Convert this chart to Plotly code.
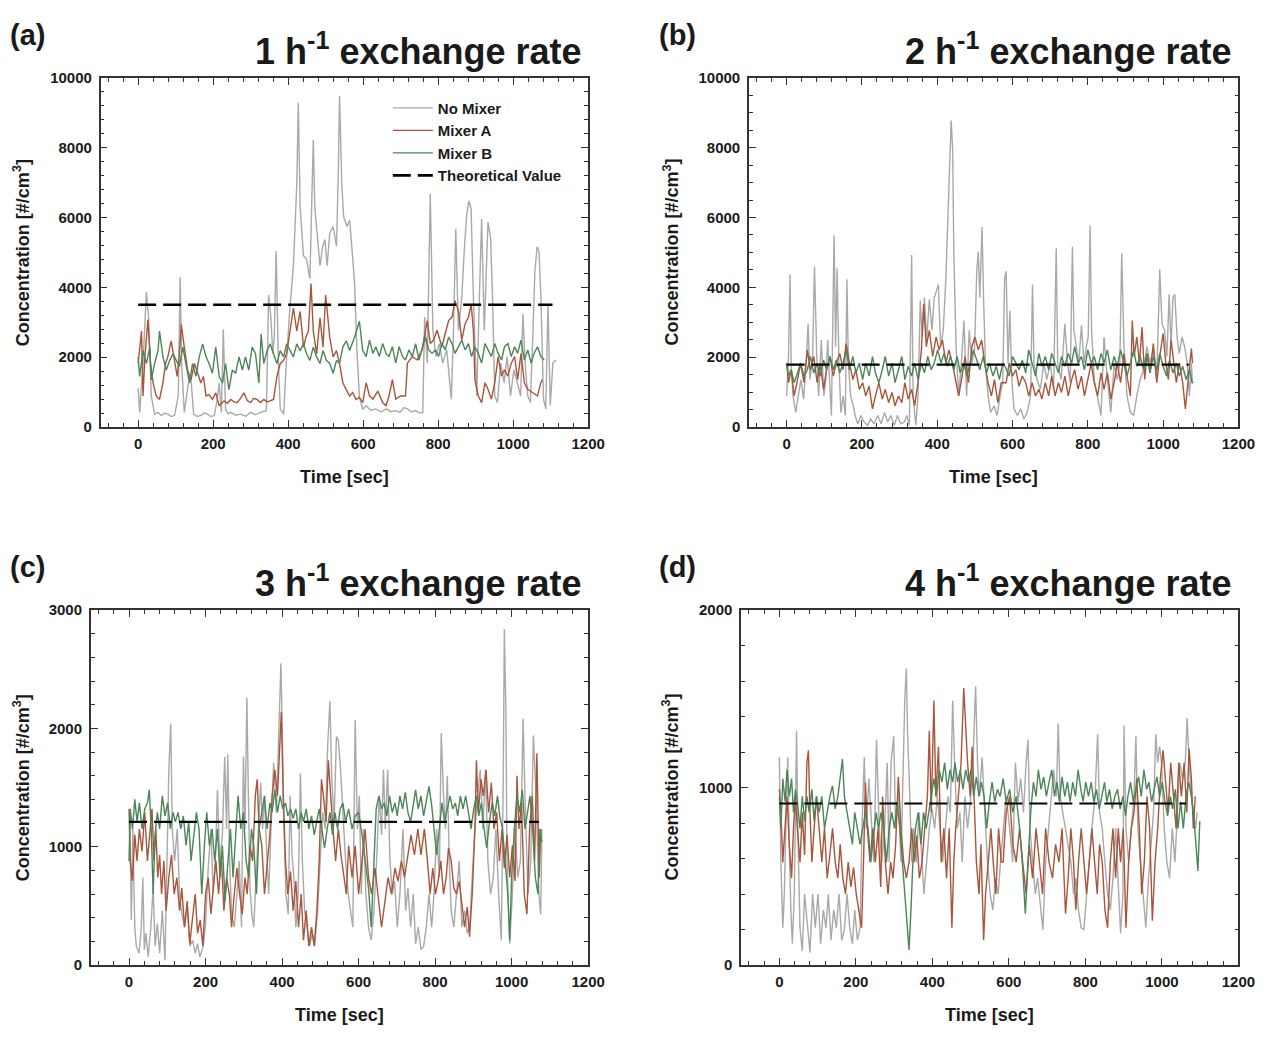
import plotly.graph_objects as go

W, H = 1288, 1038

# ---------------- data (time [s], concentration [#/cm3]) ----------------
a_no_mixer = [(0,1120),(4,420),(13,1820),(22,3870),(28,3130),(35,890),(44,370),(53,420),(62,330),(70,400),(79,370),(88,300),(97,330),
    (107,890),(112,4300),(116,1820),(123,420),(134,1260),(141,1350),(148,370),(157,300),(167,330),(176,400),(185,370),(194,300),(203,330),
    (211,790),(216,1260),(222,420),(227,2800),(233,510),(240,380),(247,420),(260,340),(273,370),(287,310),(300,420),(313,350),(326,420),
    (342,470),(348,3780),(354,3130),(359,2100),(363,2570),(368,5040),(374,1820),(379,510),(388,370),(395,1820),(404,3310),(414,4620),
    (423,6960),(427,9290),(432,6300),(441,4900),(449,4810),(458,4250),(463,6490),(467,8220),(471,6300),(478,5560),(485,4620),(492,5180),
    (498,5370),(504,4620),(511,5560),(520,5740),(529,5180),(534,7420),(537,9480),(543,6960),(548,6020),(557,5740),(564,5930),(571,5000),
    (577,4150),(583,2290),(590,850),(599,510),(608,610),(620,480),(634,520),(648,430),(661,520),(674,440),(687,470),(698,420),(709,560),
    (718,520),(729,430),(740,470),(750,400),(759,420),(764,3150),(771,1830),(779,6670),(786,2770),(794,2020),(803,2390),(812,1830),
    (823,2210),(835,800),(841,2770),(847,5680),(854,2770),(863,3710),(870,5120),(876,6060),(882,6480),(888,6240),(894,3710),(903,890),
    (910,3710),(916,5960),(923,2770),(929,4650),(933,5870),(940,5400),(945,3710),(951,890),(958,700),(967,1830),(976,1270),(984,2020),
    (993,890),(1002,1640),(1011,1270),(1020,890),(1026,3240),(1032,1830),(1039,890),(1046,700),(1053,2770),(1058,4460),(1064,5160),
    (1069,5020),(1074,3710),(1081,800),(1087,520),(1093,3520),(1099,610),(1106,1830),(1114,1920)]

a_mixer_a = [(0,1820),(9,2750),(13,890),(18,2010),(26,3080),(33,1820),(40,1260),(48,890),(57,790),(66,1260),(73,1820),(79,2010),
    (88,2470),(97,1910),(104,1450),(110,2100),(115,2940),(123,2290),(132,1630),(141,1350),(150,1820),(159,1540),(167,1260),(174,1450),
    (181,890),(189,930),(198,790),(207,980),(216,610),(229,750),(238,680),(247,790),(256,720),(264,700),(273,820),(282,980),(291,760),
    (300,700),(308,820),(317,790),(326,700),(335,790),(344,720),(352,750),(361,790),(370,1450),(379,1820),(388,1910),(396,2100),
    (405,2750),(414,3410),(423,2750),(432,3310),(441,2290),(448,2600),(454,2750),(461,4110),(467,2750),(476,2100),(485,3130),(493,2290),
    (500,3780),(511,2570),(520,2010),(529,2190),(537,1820),(546,1260),(555,1070),(564,890),(572,990),(581,790),(590,850),(599,700),
    (608,1270),(617,890),(626,800),(639,1030),(652,700),(661,610),(669,890),(678,1360),(687,800),(700,890),(713,890),(718,1830),
    (731,2020),(744,1920),(757,2210),(771,3050),(779,2390),(788,2490),(797,2770),(810,2300),(819,2680),(828,3050),(837,3150),
    (845,3620),(854,3330),(863,2490),(872,2960),(881,3150),(888,3520),(894,2770),(898,1360),(907,890),(916,700),(925,1270),(933,1080),
    (942,800),(951,1270),(960,2020),(969,1460),(977,1640),(986,1460),(995,1830),(1004,2020),(1012,1360),(1021,2110),(1030,1270),
    (1039,1080),(1052,990),(1065,890),(1074,1270),(1078,1360)]

a_mixer_b = [(0,2010),(4,1450),(13,2190),(22,1820),(31,2290),(35,1350),(44,1820),(53,2190),(57,2750),(66,2010),(75,1630),(84,1910),
    (93,2100),(101,1910),(110,1730),(119,2290),(128,1820),(137,1260),(145,1820),(154,1450),(163,2010),(172,2380),(181,2010),(189,1820),
    (198,1540),(207,2290),(216,1450),(225,1260),(233,1820),(242,1070),(251,1630),(260,1540),(269,2010),(278,1630),(286,2010),(295,1630),
    (304,2290),(313,2100),(322,1260),(328,2660),(335,1820),(344,2190),(352,2380),(361,2100),(370,1820),(379,2190),(388,2010),(396,2380),
    (405,2190),(414,2010),(423,2380),(432,2190),(441,2380),(449,2100),(458,1910),(467,2290),(476,2010),(485,1820),(493,2190),(502,1910),
    (511,1820),(520,1540),(529,1910),(537,1820),(546,2290),(555,2470),(564,2190),(577,2570),(590,3030),(599,2190),(608,2020),(617,2490),
    (626,2110),(634,2300),(643,2020),(652,2390),(661,2110),(669,2020),(678,2300),(687,1830),(696,2300),(705,2020),(713,1920),(722,2210),
    (731,2020),(740,2390),(749,1920),(757,2210),(766,2580),(775,2210),(784,2110),(793,2210),(801,2020),(810,2390),(819,2210),(828,2580),
    (837,2390),(845,2110),(854,2300),(863,2490),(872,2210),(881,2390),(889,2020),(898,2300),(907,2110),(916,1830),(925,2390),(933,2210),
    (942,2020),(951,2390),(960,2110),(969,1920),(977,2300),(986,2390),(995,2020),(1004,2300),(1012,2110),(1021,2490),(1030,1920),
    (1039,2210),(1048,1830),(1056,2110),(1065,2300),(1074,2020),(1083,1920)]

b_no_mixer = [(0,890),(5,2020),(9,4370),(12,1830),(17,890),(24,420),(31,890),(38,1360),(45,800),(52,1830),(57,2960),(62,1360),
    (69,2020),(74,4600),(80,2020),(85,890),(92,2490),(99,890),(104,1360),(109,2490),(114,1360),(119,330),(126,5490),(130,2300),
    (134,4550),(139,1830),(144,420),(150,890),(156,330),(160,4230),(164,1830),(170,890),(177,610),(182,330),(189,90),(197,330),(206,140),
    (215,50),(223,230),(232,90),(242,330),(251,90),(260,420),(268,140),(277,330),(286,50),(294,330),(303,90),(312,140),(319,330),(326,50),
    (332,4930),(336,890),(343,50),(349,890),(355,3620),(360,2580),(366,3710),(372,2490),(379,3660),(386,2770),(392,3710),(398,3900),
    (403,4080),(409,2300),(416,2770),(423,4270),(429,6340),(434,7930),(437,8780),(441,7930),(444,5020),(450,2300),(457,890),(464,1830),
    (471,3050),(478,890),(485,2770),(492,1830),(499,2210),(505,4460),(509,5020),(513,3710),(519,5730),(523,3710),(528,1830),(535,890),
    (542,420),(551,610),(559,330),(567,890),(574,1270),(579,4270),(583,4460),(588,1830),(593,3330),(598,1360),(604,520),(613,330),
    (622,520),(630,230),(639,420),(648,890),(653,4080),(657,1830),(665,1360),(674,1080),(683,1830),(691,1360),(700,1830),(709,1080),
    (716,5120),(720,1830),(729,1360),(739,2960),(746,1830),(753,1270),(759,5160),(763,2770),(770,2210),(776,1830),(783,2910),(790,1830),
    (796,2300),(801,2580),(806,5770),(810,2770),(817,1360),(826,890),(835,330),(843,2580),(852,1360),(861,420),(870,1830),(878,1360),
    (885,1830),(890,4980),(896,2300),(904,890),(913,420),(922,330),(930,890),(939,1360),(948,1640),(957,2300),(965,1830),(974,2210),
    (983,1360),(991,4510),(997,2960),(1004,2770),(1010,2020),(1016,3800),(1021,2300),(1026,3710),(1031,3800),(1037,2580),(1043,2110),
    (1050,2580),(1057,2300),(1064,1830),(1070,890),(1075,1830),(1078,1270)]

b_mixer_a = [(0,1830),(5,1270),(12,1640),(20,890),(29,1360),(37,1830),(46,1270),(55,2210),(63,1640),(72,2020),(81,1270),(89,1830),
    (98,1080),(106,1640),(115,2020),(124,1460),(132,1830),(141,2110),(150,1640),(158,2390),(167,1830),(176,1360),(184,1640),(193,1080),
    (202,1270),(210,890),(219,1170),(228,520),(236,890),(245,1270),(254,800),(262,1080),(271,700),(280,990),(288,610),(297,890),(306,700),
    (314,1270),(323,800),(332,1080),(340,610),(349,1270),(358,2210),(364,3520),(371,2300),(379,2770),(388,2020),(397,2580),(405,2210),
    (414,2490),(423,1830),(431,2210),(440,1830),(448,1360),(457,890),(466,1460),(474,2020),(483,1270),(492,2300),(500,2580),(509,2210),
    (518,2490),(526,1830),(535,1270),(544,890),(552,1360),(561,700),(570,1270),(583,1270),(591,1830),(600,1460),(609,1640),(617,1170),
    (626,1460),(635,1270),(643,890),(652,1270),(661,890),(670,1080),(678,800),(687,1270),(696,890),(704,1460),(713,890),(722,1270),
    (730,990),(739,1460),(748,890),(757,1360),(765,1640),(774,1080),(783,1460),(791,890),(800,1360),(809,1830),(817,1270),(826,890),
    (835,1550),(843,1080),(852,1550),(861,800),(870,1270),(878,1830),(887,1270),(896,2110),(904,1460),(913,890),(918,3050),(923,2020),
    (930,2580),(937,1830),(944,2860),(951,1360),(958,2110),(965,1550),(974,2390),(983,1270),(991,2020),(1000,2680),(1007,1830),
    (1014,1360),(1021,2490),(1028,1830),(1035,1270),(1043,1830),(1052,1270),(1059,520),(1064,1080),(1070,1830),(1075,2250),(1078,1830)]

b_mixer_b = [(0,1830),(5,1460),(12,1640),(20,1270),(29,1550),(37,1830),(46,1460),(55,1640),(63,2020),(72,1550),(81,1830),(89,1460),
    (98,1920),(106,1640),(115,2020),(124,1640),(132,1920),(141,1550),(150,1830),(158,2210),(167,1640),(176,2020),(184,1550),(193,1830),
    (202,1360),(210,1830),(219,1460),(228,2020),(236,1550),(245,1270),(254,1640),(262,2020),(271,1460),(280,1830),(288,1270),(297,1640),
    (306,2020),(314,1360),(323,1740),(332,1460),(340,1830),(349,1360),(358,1830),(366,1550),(375,2020),(384,1640),(392,1830),(401,2210),
    (410,1830),(418,2110),(427,1740),(435,2020),(444,1640),(453,2020),(461,1550),(470,1830),(479,1460),(487,1830),(496,2210),(505,1920),
    (513,1640),(522,2020),(531,1550),(539,1830),(548,1460),(557,1740),(565,1360),(574,1830),(580,1740),(591,1460),(600,2020),(609,1830),
    (617,1640),(626,1920),(635,1550),(643,2210),(652,1830),(661,1460),(670,2110),(678,1740),(687,2020),(696,1640),(704,2110),(713,1830),
    (722,1550),(730,2020),(739,1740),(748,2110),(757,1830),(765,2300),(774,1830),(783,2020),(791,1640),(800,2210),(809,1830),(817,2020),
    (826,1640),(835,2110),(843,1830),(852,2210),(861,1640),(870,2020),(878,1740),(887,2210),(896,1830),(904,1460),(913,1830),(922,2210),
    (930,1740),(939,2020),(948,1640),(957,2110),(965,1550),(974,2020),(983,1640),(991,2110),(1000,1740),(1009,1460),(1017,1920),
    (1026,1550),(1035,1830),(1043,1460),(1052,1740),(1061,1360),(1070,1640),(1077,1270),(1080,1270)]

c_no_mixer = [(2,1290),(6,380),(10,1150),(15,320),(19,160),(26,100),(32,320),(36,740),(40,130),(44,270),(50,70),(57,320),(63,650),
    (68,160),(74,350),(80,100),(87,460),(94,40),(100,1010),(104,1650),(109,2040),(113,1150),(119,880),(126,1150),(132,600),(138,430),
    (145,320),(152,490),(159,160),(166,210),(173,100),(179,180),(185,70),(194,160),(200,350),(207,820),(214,1150),(220,600),(226,930),
    (231,1480),(237,880),(244,1100),(250,1760),(255,1150),(258,1780),(263,880),(268,430),(275,320),(282,600),(288,880),(294,320),
    (299,1760),(303,1150),(308,2260),(312,1430),(316,650),(321,430),(326,320),(332,740),(338,1150),(344,1540),(349,1150),(354,1430),
    (359,1010),(365,600),(371,1150),(378,1710),(385,1290),(391,1980),(397,2550),(401,1900),(405,1150),(410,600),(416,430),(421,1430),
    (426,930),(431,740),(436,320),(442,600),(448,1620),(453,880),(459,460),(465,320),(472,160),(479,270),(485,160),(493,460),(499,880),
    (506,1290),(513,1150),(519,1840),(525,2230),(530,1570),(536,1210),(542,1930),(547,1900),(553,1650),(559,1290),(566,880),(573,600),
    (579,460),(585,320),(591,2070),(597,1150),(602,1430),(607,600),(613,1150),(619,600),(626,320),(633,210),(640,460),(647,880),
    (654,1430),(660,1100),(665,1650),(670,1150),(676,1650),(682,880),(688,600),(694,710),(701,320),(708,600),(716,1150),(723,460),
    (729,650),(736,320),(743,600),(749,180),(756,320),(763,130),(770,160),(777,320),(784,600),(791,320),(798,650),(804,1150),(811,740),
    (816,1960),(822,1430),(827,1150),(832,1600),(837,880),(842,460),(849,320),(856,600),(863,880),(870,320),(877,460),(884,270),(890,320),
    (897,740),(904,1150),(911,1430),(918,1650),(925,1150),(932,1650),(938,880),(945,600),(952,740),(959,1150),(966,600),(973,210),
    (978,1540),(981,2840),(985,2150),(988,880),(995,180),(1002,600),(1009,1150),(1016,740),(1023,880),(1030,2080),(1036,1290),
    (1043,600),(1050,880),(1057,1940),(1064,1430),(1071,600),(1076,430),(1079,1150)]

c_mixer_a = [(0,1320),(3,880),(9,710),(15,1100),(21,880),(27,1150),(34,960),(41,1290),(48,880),(55,1150),(60,1320),(65,880),(70,1150),
    (75,740),(80,930),(85,600),(91,880),(97,460),(104,740),(111,930),(118,600),(125,740),(132,460),(138,650),(145,320),(152,540),
    (159,180),(166,400),(173,600),(179,270),(186,380),(193,160),(200,600),(207,740),(214,430),(221,680),(227,880),(234,600),(241,930),
    (248,460),(255,740),(262,600),(268,320),(275,600),(282,820),(289,600),(296,430),(303,740),(309,600),(316,1010),(323,880),(330,1430),
    (335,1570),(340,1150),(347,1010),(354,600),(361,880),(368,1100),(374,1430),(381,1650),(388,1430),(393,1840),(398,2140),(403,1430),
    (409,880),(415,600),(422,790),(429,460),(436,710),(443,320),(450,600),(456,210),(463,460),(470,160),(477,320),(484,160),(491,460),
    (497,880),(503,1570),(508,1430),(515,1210),(521,1730),(527,1430),(533,1150),(540,880),(547,1150),(554,930),(561,740),(568,600),
    (574,1010),(583,740),(591,1010),(600,600),(609,880),(617,1150),(626,740),(634,600),(643,820),(652,540),(660,320),(669,540),(677,740),
    (686,600),(695,820),(703,710),(712,880),(720,740),(729,930),(737,1100),(746,930),(755,1150),(763,930),(772,1150),(780,880),(787,600),
    (794,820),(801,600),(808,710),(815,880),(822,600),(829,740),(835,990),(842,880),(849,650),(856,600),(863,710),(870,490),(877,320),
    (884,490),(890,240),(897,600),(904,1150),(908,1730),(913,1290),(920,1570),(926,1430),(933,1650),(940,1290),(947,1540),(954,1150),
    (961,1290),(968,880),(975,1150),(981,820),(988,1100),(995,740),(1002,1010),(1009,710),(1014,1600),(1019,1150),(1026,1370),(1033,600),
    (1040,430),(1047,1150),(1054,1430),(1060,880),(1066,1790),(1069,1150),(1072,740),(1076,1150)]

c_mixer_b = [(0,880),(3,1320),(9,1150),(15,1400),(21,1210),(27,1370),(34,1150),(41,1320),(48,1370),(53,1480),(58,1150),(63,600),
    (68,1100),(74,1290),(80,1150),(87,1430),(94,1260),(101,1370),(108,1150),(115,1290),(121,1210),(128,1290),(135,1150),(142,1260),
    (149,1010),(156,1210),(162,880),(169,1100),(176,1290),(183,1150),(190,600),(197,1010),(203,1290),(210,1010),(217,1150),(224,880),
    (231,1150),(238,740),(244,1010),(251,540),(258,880),(265,1150),(272,740),(279,1150),(285,1430),(292,1150),(299,1290),(306,880),
    (313,740),(320,1150),(326,1010),(333,600),(340,1150),(347,1290),(354,1430),(361,1150),(368,1370),(374,1290),(381,1480),(388,1290),
    (395,1430),(402,1320),(409,1370),(415,1260),(422,1320),(429,1240),(436,1320),(443,1150),(450,1290),(456,1210),(463,1320),(470,1150),
    (477,1260),(484,1100),(491,1210),(497,1320),(504,1150),(511,990),(518,1150),(525,1290),(532,1100),(538,1290),(545,1150),(552,1320),
    (559,1370),(566,1210),(574,1320),(583,1150),(591,1260),(600,1290),(609,1100),(617,880),(626,650),(633,320),(640,880),(646,1320),
    (653,1430),(660,1320),(667,1370),(674,1260),(681,1430),(688,1290),(695,1370),(701,1260),(708,1430),(715,1320),(722,1460),(729,1290),
    (736,1210),(743,1370),(749,1480),(756,1320),(763,1430),(770,1260),(777,1370),(784,1510),(791,1350),(798,1150),(804,930),(811,1150),
    (818,1370),(825,1210),(832,1320),(839,1430),(846,1320),(853,1370),(859,1260),(866,1430),(873,1320),(880,1430),(887,1290),(894,1150),
    (901,1320),(908,1430),(914,1260),(921,1370),(928,1150),(935,990),(942,1210),(949,1370),(956,1260),(963,1430),(969,1260),(976,1150),
    (983,880),(990,600),(995,210),(1000,740),(1007,1150),(1014,1430),(1021,1290),(1028,1480),(1035,1150),(1042,1320),(1048,1430),
    (1055,1150),(1062,740),(1069,600),(1074,1150),(1079,1040)]

d_no_mixer = [(0,1170),(4,580),(9,210),(13,400),(17,770),(22,1170),(26,680),(30,310),(34,120),(39,400),(45,1320),(49,680),(54,210),
    (60,80),(66,400),(73,210),(80,70),(87,400),(94,210),(101,400),(108,120),(115,310),(122,210),(128,400),(135,140),(142,310),(149,210),
    (156,400),(163,140),(170,200),(177,400),(184,210),(191,120),(197,310),(204,140),(211,210),(216,770),(222,1170),(227,770),(234,1050),
    (241,770),(247,580),(254,1270),(261,770),(268,580),(275,770),(282,1140),(287,580),(292,1140),(299,1290),(304,770),(311,950),(318,580),
    (323,1050),(328,1510),(332,1670),(335,1320),(341,950),(346,580),(351,770),(358,580),(365,860),(372,580),(378,400),(385,580),(392,770),
    (399,880),(406,770),(413,950),(420,770),(427,580),(434,770),(441,950),(447,860),(453,1490),(458,1140),(465,770),(472,860),(478,580),
    (485,950),(492,770),(499,920),(506,1140),(513,1570),(518,1140),(523,950),(530,1170),(537,860),(544,580),(551,400),(558,310),(565,490),
    (572,400),(578,580),(585,770),(593,950),(602,770),(610,580),(617,1140),(624,920),(631,1050),(638,860),(645,1140),(650,1270),(655,770),
    (662,580),(669,400),(675,490),(683,310),(689,200),(696,580),(703,770),(710,950),(717,1100),(724,950),(729,1360),(734,950),(741,860),
    (748,770),(755,680),(762,580),(769,400),(775,490),(782,310),(789,210),(796,200),(803,400),(810,580),(817,770),(825,950),(832,1300),
    (837,860),(844,770),(851,580),(858,400),(865,310),(872,490),(879,770),(886,400),(892,180),(898,400),(901,1350),(906,770),(913,580),
    (920,770),(927,950),(932,1290),(937,770),(944,580),(951,400),(958,210),(965,490),(972,680),(978,860),(984,1300),(989,1140),(994,1230),
    (999,1140),(1006,770),(1013,580),(1020,490),(1027,770),(1034,580),(1040,860),(1047,1140),(1054,1050),(1061,1140),(1066,1390),
    (1071,1140),(1077,950),(1083,860),(1088,770),(1092,860)]

d_mixer_a = [(0,990),(4,860),(9,580),(15,770),(20,950),(26,680),(32,490),(37,770),(42,950),(47,770),(54,580),(60,860),(66,620),
    (72,1140),(76,1210),(80,860),(85,580),(91,770),(97,950),(104,770),(111,580),(118,770),(125,490),(132,620),(139,770),(146,580),
    (153,490),(159,680),(166,490),(173,400),(180,580),(187,440),(194,550),(201,400),(208,310),(215,210),(220,580),(225,1030),(230,770),
    (237,580),(244,770),(251,580),(258,770),(265,440),(270,950),(277,580),(284,400),(291,580),(297,490),(304,680),(311,1060),(318,770),
    (325,580),(332,490),(339,580),(346,770),(353,580),(359,730),(366,490),(373,580),(380,770),(387,950),(392,1320),(397,860),(404,1490),
    (409,950),(416,1230),(423,580),(430,770),(437,490),(444,770),(451,210),(456,580),(461,770),(468,950),(475,1140),(482,1560),(487,1320),
    (492,1140),(499,950),(504,1230),(509,950),(515,580),(522,400),(527,680),(534,140),(539,400),(546,580),(553,770),(559,580),(566,400),
    (573,770),(580,580),(585,580),(593,860),(602,950),(610,680),(619,580),(628,770),(636,580),(645,400),(653,680),(662,490),(671,770),
    (679,580),(688,400),(696,770),(705,580),(714,490),(722,680),(731,580),(739,770),(748,290),(755,490),(762,770),(769,580),(775,310),
    (782,580),(789,770),(796,580),(803,400),(810,580),(817,770),(824,580),(831,400),(837,680),(844,580),(851,310),(858,210),(865,580),
    (872,770),(879,490),(886,770),(892,580),(899,770),(906,210),(913,580),(920,770),(927,860),(934,1050),(941,770),(947,400),(954,580),
    (961,950),(968,770),(975,250),(982,580),(989,770),(996,1050),(1003,1210),(1009,1050),(1016,860),(1023,1140),(1030,950),(1037,770),
    (1044,1140),(1051,950),(1058,1140),(1065,860),(1071,1220),(1077,1050),(1082,770),(1087,950)]

d_mixer_b = [(0,950),(4,770),(9,1050),(15,920),(20,1100),(26,950),(32,1050),(37,860),(42,990),(47,920),(54,770),(60,950),(66,810),
    (72,950),(78,860),(85,990),(91,810),(97,950),(104,860),(111,950),(118,770),(125,860),(132,950),(139,1010),(146,880),(153,950),
    (159,1060),(165,1160),(170,950),(177,860),(184,770),(191,680),(197,860),(204,770),(211,680),(218,770),(225,860),(232,770),(239,580),
    (246,730),(253,860),(259,770),(266,860),(273,770),(280,580),(287,770),(294,860),(301,770),(308,920),(315,770),(322,580),(328,400),
    (334,210),(339,85),(344,310),(349,580),(356,770),(363,860),(370,680),(377,860),(384,770),(391,860),(397,950),(404,1050),(411,950),
    (418,1100),(425,1030),(432,1140),(439,990),(446,1100),(453,1030),(459,1140),(466,1030),(473,1100),(480,990),(487,1100),(494,1030),
    (501,1100),(508,950),(515,1060),(522,950),(528,1030),(535,950),(542,770),(549,920),(556,1030),(563,920),(570,990),(577,950),(585,1050),
    (593,920),(602,990),(610,860),(619,950),(628,770),(636,550),(643,290),(650,580),(657,860),(664,1030),(671,950),(677,1100),(684,990),
    (691,1060),(698,950),(705,1030),(712,1100),(719,950),(726,1030),(732,920),(739,1060),(746,950),(753,1030),(760,920),(767,1030),
    (774,950),(781,1100),(788,990),(794,920),(801,1030),(808,950),(815,1030),(822,920),(829,990),(836,880),(843,950),(850,1030),(856,920),
    (863,990),(870,880),(877,950),(884,990),(891,880),(898,950),(905,840),(911,950),(918,1030),(925,920),(932,990),(939,1060),(946,950),
    (953,1100),(960,990),(966,1030),(973,920),(980,990),(987,1060),(994,950),(1001,1030),(1008,920),(1015,840),(1022,950),(1028,880),
    (1035,990),(1042,770),(1049,920),(1056,770),(1063,950),(1070,1030),(1077,950),(1083,840),(1089,680),(1094,530),(1099,810)]

theoretical_value = [3500, 1790, 1210, 910]
theoretical_end = [1105, 1068, 1071, 1063]
panel_letters = ["(a)", "(b)", "(c)", "(d)"]
exchange_rates = ["1", "2", "3", "4"]
y_ranges = [[0, 10000], [0, 10000], [0, 3000], [0, 2000]]
y_dticks = [2000, 2000, 1000, 1000]
y_minor = [400, 500, 200, 200]
series_names = ["No Mixer", "Mixer A", "Mixer B"]

panel_data = [
    [a_no_mixer, a_mixer_a, a_mixer_b],
    [b_no_mixer, b_mixer_a, b_mixer_b],
    [c_no_mixer, c_mixer_a, c_mixer_b],
    [d_no_mixer, d_mixer_a, d_mixer_b],
]

# ---------------- style / layout ----------------
colors = ["#a9a9a9", "#a9553b", "#4b8558"]
FONT = "Liberation Sans, Arial, sans-serif"
INK = "#1a1a1a"
# plot-area boxes in pixels: left, right, top, bottom
boxes = [(102, 596, 70, 425), (759, 1255, 70, 425), (92, 596, 611, 972), (751, 1255, 611, 972)]

fig = go.Figure()
for i in range(4):
    xa = "x" if i == 0 else f"x{i+1}"
    ya = "y" if i == 0 else f"y{i+1}"
    for j, series in enumerate(panel_data[i]):
        t, v = zip(*series)
        fig.add_trace(go.Scatter(
            x=list(t), y=list(v), mode="lines", name=series_names[j],
            line=dict(color=colors[j], width=1.4), xaxis=xa, yaxis=ya,
            showlegend=(i == 0), legendgroup=series_names[j]))
    fig.add_trace(go.Scatter(
        x=[0, theoretical_end[i]], y=[theoretical_value[i]] * 2, mode="lines",
        name="Theoretical Value", line=dict(color="black", width=2.6 if i == 0 else 2.2, dash="18px,7px"),
        xaxis=xa, yaxis=ya, showlegend=(i == 0), legendgroup="theory"))

layout = dict(
    width=W, height=H, margin=dict(l=0, r=0, t=0, b=0),
    paper_bgcolor="white", plot_bgcolor="white",
    font=dict(family=FONT, color=INK),
    legend=dict(x=393 / W, y=1 - 84 / H, xanchor="left", yanchor="top",
                bgcolor="rgba(0,0,0,0)", font=dict(size=15, family=FONT, color=INK, weight="bold"),
                tracegroupgap=0, itemwidth=40),
    annotations=[],
)

axis_common = dict(
    showline=True, linecolor="#333333", linewidth=1.5, mirror="allticks",
    ticks="inside", ticklen=7, tickwidth=1.3, tickcolor="#333333",
    showgrid=False, zeroline=False, tickformat="d",
    tickfont=dict(size=15, family=FONT, color=INK, weight="bold"),
)

for i, (l, r, t, b) in enumerate(boxes):
    sx = "" if i == 0 else str(i + 1)
    layout["xaxis" + sx] = dict(
        axis_common, domain=[l / W, r / W], anchor="y" + sx, range=[-100, 1200],
        tick0=0, dtick=200, ticklabelstandoff=2,
        minor=dict(ticks="inside", ticklen=4, tickwidth=1.1, tickcolor="#333333", dtick=40, tick0=0))
    layout["yaxis" + sx] = dict(
        axis_common, domain=[1 - b / H, 1 - t / H], anchor="x" + sx, range=y_ranges[i],
        tick0=0, dtick=y_dticks[i], ticklabelstandoff=4,
        minor=dict(ticks="inside", ticklen=4, tickwidth=1.1, tickcolor="#333333", dtick=y_minor[i], tick0=0))

    cx = (l + r) / 2
    cy = (t + b) / 2
    layout["annotations"].append(dict(
        text=f"<b>{panel_letters[i]}</b>", x=(8 if i % 2 == 0 else 666) / W, y=1 - (t - 44) / H,
        xref="paper", yref="paper", xanchor="left", yanchor="middle", showarrow=False,
        font=dict(size=29, family=FONT, color=INK)))
    layout["annotations"].append(dict(
        text=f"<b>{exchange_rates[i]} h<sup>-1</sup> exchange rate</b>", x=(r - 4) / W, y=1 - (t - 29) / H,
        xref="paper", yref="paper", xanchor="right", yanchor="middle", showarrow=False,
        font=dict(size=36, family=FONT, color=INK)))
    layout["annotations"].append(dict(
        text="<b>Time [sec]</b>", x=cx / W, y=1 - (b + 51) / H,
        xref="paper", yref="paper", xanchor="center", yanchor="middle", showarrow=False,
        font=dict(size=18, family=FONT, color=INK)))
    layout["annotations"].append(dict(
        text="<b>Concentration [#/cm<sup>3</sup>]</b>", x=(22 if i % 2 == 0 else 680) / W, y=1 - cy / H,
        xref="paper", yref="paper", xanchor="center", yanchor="middle", showarrow=False, textangle=-90,
        font=dict(size=18, family=FONT, color=INK)))

fig.update_layout(layout)
fig.write_html("out.html", post_script="document.body.style.margin='0';document.body.style.overflow='hidden';")
